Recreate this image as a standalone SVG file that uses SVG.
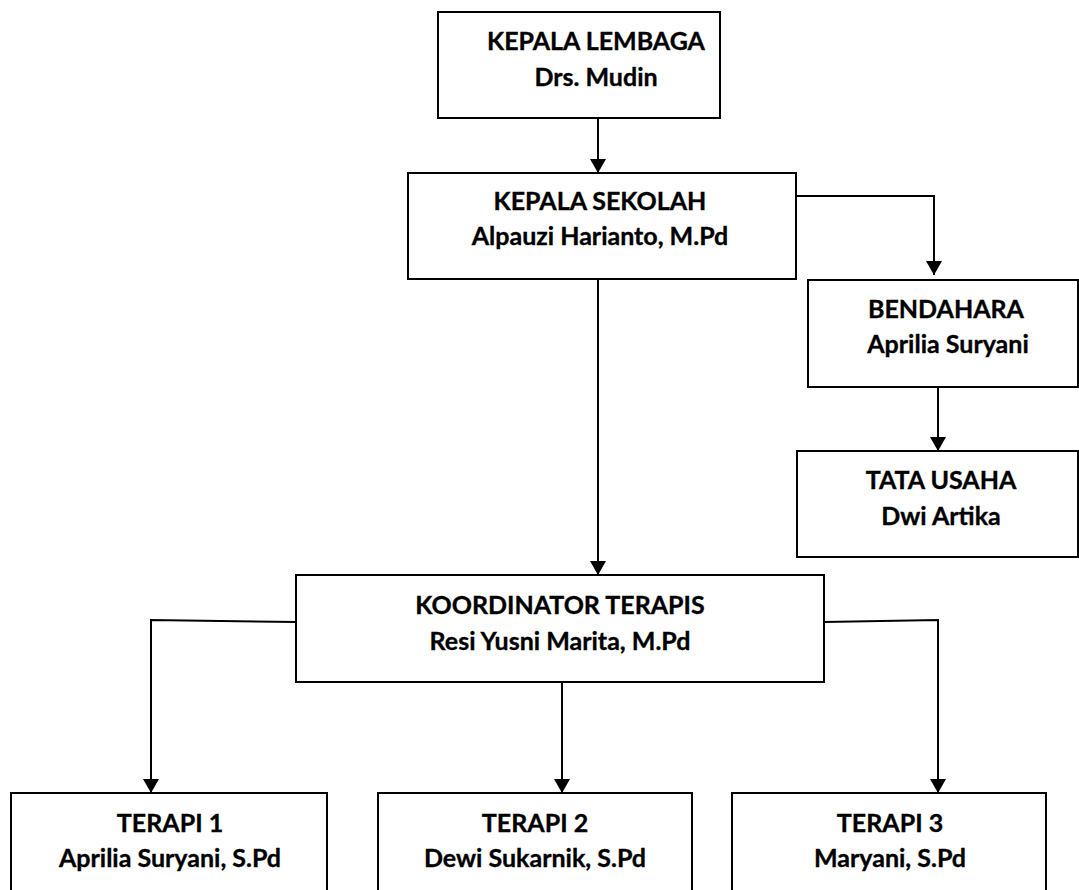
<svg xmlns="http://www.w3.org/2000/svg" width="1079" height="890" viewBox="0 0 1079 890">
<style>
.box{fill:#fff;stroke:#000;stroke-width:2}
.t{font-family:Lato,"Open Sans","Liberation Sans",sans-serif;font-weight:bold;font-size:25px;fill:#000;stroke:#000;stroke-width:0.35;text-anchor:middle}
.c{fill:none;stroke:#000;stroke-width:2}
</style>
<defs>
<marker id="arr" markerUnits="userSpaceOnUse" markerWidth="14" markerHeight="16" refX="14" refY="8" orient="auto" viewBox="0 0 14 16">
<path d="M0,0 L14,8 L0,16 Z" fill="#000"/>
</marker>
</defs>
<rect width="1079" height="890" fill="#fff"/>
<g id="connectors">
<path class="c" d="M598,118 V173" marker-end="url(#arr)"/>
<path class="c" d="M788,196 H934 V275" marker-end="url(#arr)"/>
<path class="c" d="M598,279 V575" marker-end="url(#arr)"/>
<path class="c" d="M938,382 V451" marker-end="url(#arr)"/>
<path class="c" d="M296,622 L151,620 V793" marker-end="url(#arr)"/>
<path class="c" d="M562,682 V793" marker-end="url(#arr)"/>
<path class="c" d="M824,622 L938,620 V793" marker-end="url(#arr)"/>
</g>
<g id="kepala-lembaga">
<rect class="box" x="438" y="12" width="282" height="106"/>
<text class="t" x="596" y="50">KEPALA LEMBAGA</text>
<text class="t" x="596" y="86">Drs. Mudin</text>
</g>
<g id="kepala-sekolah">
<rect class="box" x="408" y="173" width="388" height="106"/>
<text class="t" x="600" y="210">KEPALA SEKOLAH</text>
<text class="t" x="600" y="245">Alpauzi Harianto, M.Pd</text>
</g>
<g id="bendahara">
<rect class="box" x="808" y="280" width="270" height="107"/>
<text class="t" x="946" y="318">BENDAHARA</text>
<text class="t" x="948" y="353">Aprilia Suryani</text>
</g>
<g id="tata-usaha">
<rect class="box" x="797" y="451" width="281" height="106"/>
<text class="t" x="941" y="489">TATA USAHA</text>
<text class="t" x="941" y="525">Dwi Artika</text>
</g>
<g id="koordinator-terapis">
<rect class="box" x="296" y="575" width="528" height="107"/>
<text class="t" x="560" y="614">KOORDINATOR TERAPIS</text>
<text class="t" x="560" y="650">Resi Yusni Marita, M.Pd</text>
</g>
<g id="terapi-1">
<rect class="box" x="11" y="793" width="316" height="110"/>
<text class="t" x="170" y="832">TERAPI 1</text>
<text class="t" x="170" y="867">Aprilia Suryani, S.Pd</text>
</g>
<g id="terapi-2">
<rect class="box" x="378" y="793" width="314" height="110"/>
<text class="t" x="535" y="832">TERAPI 2</text>
<text class="t" x="535" y="867">Dewi Sukarnik, S.Pd</text>
</g>
<g id="terapi-3">
<rect class="box" x="732" y="793" width="314" height="110"/>
<text class="t" x="890" y="832">TERAPI 3</text>
<text class="t" x="890" y="867">Maryani, S.Pd</text>
</g>
</svg>
